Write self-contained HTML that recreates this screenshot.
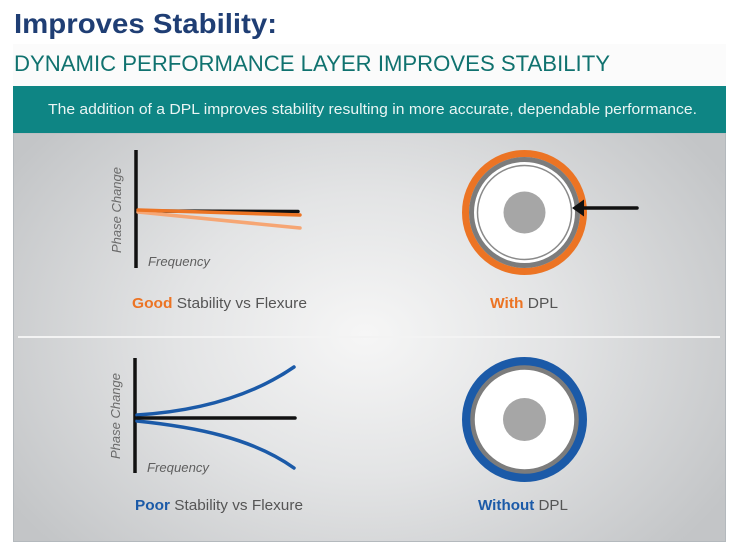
<!DOCTYPE html>
<html>
<head>
<meta charset="utf-8">
<style>
html,body{margin:0;padding:0;background:#ffffff;}
svg{display:block;}
</style>
</head>
<body>
<svg width="742" height="560" viewBox="0 0 742 560" xmlns="http://www.w3.org/2000/svg">
  <defs>
    <radialGradient id="bg" cx="365" cy="335" r="420" gradientUnits="userSpaceOnUse" gradientTransform="translate(365 335) scale(1 0.75) translate(-365 -335)">
      <stop offset="0" stop-color="#f6f6f6"/>
      <stop offset="0.45" stop-color="#e3e4e5"/>
      <stop offset="1" stop-color="#c3c5c7"/>
    </radialGradient>
  </defs>
  <rect x="0" y="0" width="742" height="560" fill="#ffffff"/>
  <rect x="13" y="44" width="713" height="42" fill="#fbfbfb"/>

  <!-- Titles -->
  <text x="14" y="33" font-family="Liberation Sans, sans-serif" font-weight="bold" font-size="28" fill="#1f3e74" textLength="263" lengthAdjust="spacingAndGlyphs">Improves Stability:</text>
  <text x="14" y="71" font-family="Liberation Sans, sans-serif" font-size="22" fill="#10726f" textLength="596" lengthAdjust="spacingAndGlyphs">DYNAMIC PERFORMANCE LAYER IMPROVES STABILITY</text>

  <!-- Panel -->
  <rect x="13" y="133" width="713" height="409" fill="url(#bg)"/>
  <rect x="13.5" y="133" width="712" height="408.5" fill="none" stroke="#b4b9bd" stroke-width="1"/>
  <rect x="13" y="86" width="713" height="47" fill="#0e8584"/>
  <text x="48" y="114" font-family="Liberation Sans, sans-serif" font-size="14.5" fill="#eaf5f4" textLength="649" lengthAdjust="spacingAndGlyphs">The addition of a DPL improves stability resulting in more accurate, dependable performance.</text>

  <!-- divider -->
  <line x1="18" y1="337" x2="720" y2="337" stroke="#f3f3f3" stroke-width="2"/>

  <!-- Top chart -->
  <line x1="136" y1="150" x2="136" y2="268" stroke="#111" stroke-width="3.5"/>
  <line x1="138" y1="211" x2="298" y2="211.5" stroke="#111" stroke-width="3.5" stroke-linecap="round"/>
  <line x1="138" y1="212" x2="300" y2="228" stroke="#f6a674" stroke-width="3.5" stroke-linecap="round"/>
  <line x1="138" y1="210" x2="300" y2="215" stroke="#ec7424" stroke-width="3.5" stroke-linecap="round"/>
  <text x="0" y="0" transform="translate(121 210) rotate(-90)" text-anchor="middle" font-family="Liberation Sans, sans-serif" font-style="italic" font-size="12.5" fill="#6a6a6a" textLength="86" lengthAdjust="spacingAndGlyphs">Phase Change</text>
  <text x="148" y="266" font-family="Liberation Sans, sans-serif" font-style="italic" font-size="13" fill="#5f5f5f" textLength="62" lengthAdjust="spacingAndGlyphs">Frequency</text>
  <text x="132" y="308" font-family="Liberation Sans, sans-serif" font-size="15" fill="#555" textLength="175" lengthAdjust="spacingAndGlyphs"><tspan font-weight="bold" fill="#ec7424">Good</tspan> Stability vs Flexure</text>

  <!-- Top circle -->
  <circle cx="524.5" cy="212.5" r="59" fill="none" stroke="#ec7424" stroke-width="7"/>
  <circle cx="524.5" cy="212.5" r="53" fill="#ffffff" stroke="#7c7c7c" stroke-width="5"/>
  <circle cx="524.5" cy="212.5" r="47" fill="none" stroke="#8a8a8a" stroke-width="1.5"/>
  <circle cx="524.5" cy="212.5" r="21" fill="#a6a6a6"/>
  <line x1="637" y1="208" x2="580" y2="208" stroke="#111" stroke-width="3.5" stroke-linecap="round"/>
  <polygon points="572,208 584,199.5 584,216.5" fill="#111"/>
  <text x="490" y="308" font-family="Liberation Sans, sans-serif" font-size="15" fill="#555" textLength="68" lengthAdjust="spacingAndGlyphs"><tspan font-weight="bold" fill="#ec7424">With</tspan> DPL</text>

  <!-- Bottom chart -->
  <line x1="135" y1="358" x2="135" y2="473" stroke="#111" stroke-width="3.5"/>
  <path d="M137,415 C200,411 252,396 294,367" fill="none" stroke="#1b5aa8" stroke-width="3.5" stroke-linecap="round"/>
  <path d="M137,421 C195,427 252,438 294,468" fill="none" stroke="#1b5aa8" stroke-width="3.5" stroke-linecap="round"/>
  <line x1="137" y1="418" x2="295" y2="418" stroke="#111" stroke-width="3.5" stroke-linecap="round"/>
  <text x="0" y="0" transform="translate(120 416) rotate(-90)" text-anchor="middle" font-family="Liberation Sans, sans-serif" font-style="italic" font-size="12.5" fill="#6a6a6a" textLength="86" lengthAdjust="spacingAndGlyphs">Phase Change</text>
  <text x="147" y="472" font-family="Liberation Sans, sans-serif" font-style="italic" font-size="13" fill="#5f5f5f" textLength="62" lengthAdjust="spacingAndGlyphs">Frequency</text>
  <text x="135" y="510" font-family="Liberation Sans, sans-serif" font-size="15" fill="#555" textLength="168" lengthAdjust="spacingAndGlyphs"><tspan font-weight="bold" fill="#1b5aa8">Poor</tspan> Stability vs Flexure</text>

  <!-- Bottom circle -->
  <circle cx="524.5" cy="419.5" r="58" fill="none" stroke="#1b5aa8" stroke-width="9"/>
  <circle cx="524.5" cy="419.5" r="52" fill="#ffffff" stroke="#7c7c7c" stroke-width="4.5"/>
  <circle cx="524.5" cy="419.5" r="21.5" fill="#a6a6a6"/>
  <text x="478" y="510" font-family="Liberation Sans, sans-serif" font-size="15" fill="#555" textLength="90" lengthAdjust="spacingAndGlyphs"><tspan font-weight="bold" fill="#1b5aa8">Without</tspan> DPL</text>
</svg>
</body>
</html>
